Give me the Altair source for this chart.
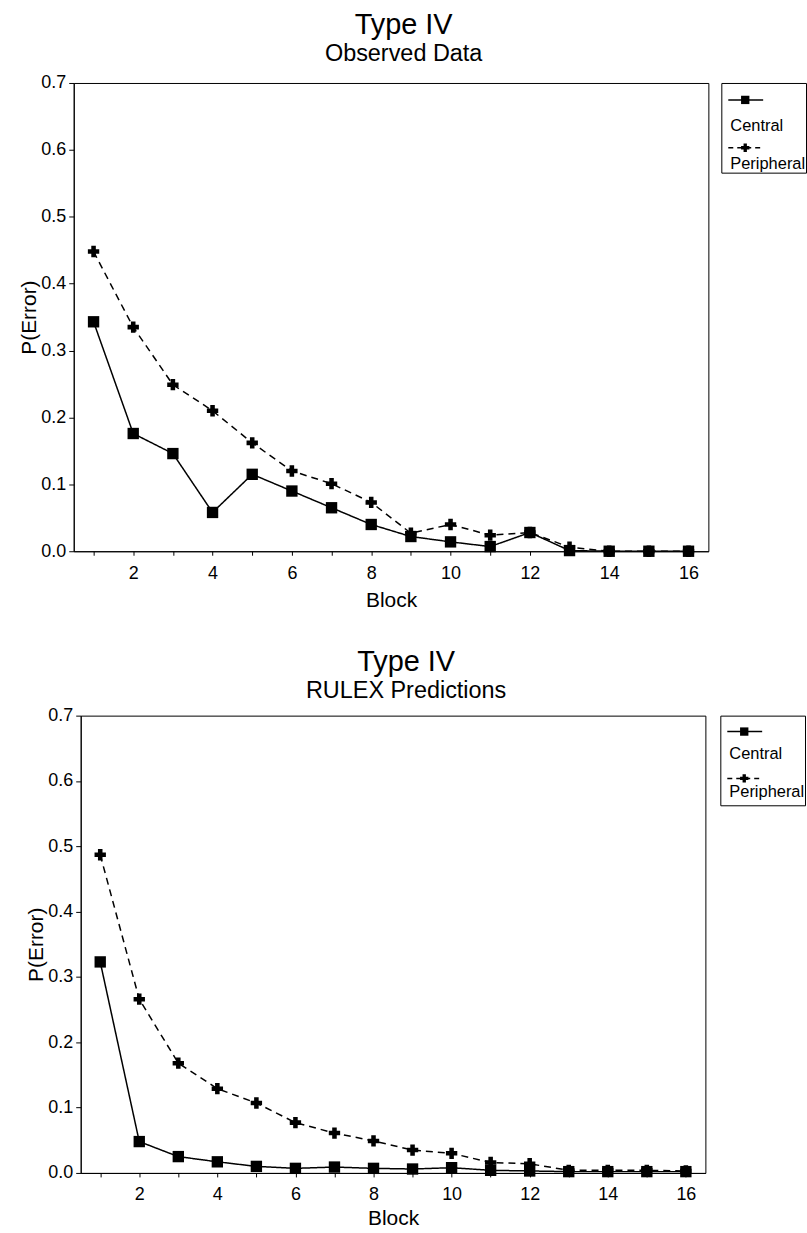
import altair as alt
import pandas as pd

FONT = "Liberation Sans"

blocks = list(range(1, 17))
series_names = ["Central", "Peripheral"]

obs_central = [0.343, 0.176, 0.146, 0.058, 0.115, 0.090, 0.065, 0.040,
               0.022, 0.014, 0.007, 0.028, 0.001, 0.0, 0.0, 0.0]
obs_peripheral = [0.448, 0.335, 0.249, 0.210, 0.162, 0.120, 0.101, 0.073,
                  0.027, 0.040, 0.024, 0.028, 0.006, 0.0, 0.0, 0.0]

rulex_central = [0.323, 0.048, 0.025, 0.017, 0.010, 0.007, 0.009, 0.007,
                 0.006, 0.008, 0.004, 0.003, 0.002, 0.002, 0.002, 0.002]
rulex_peripheral = [0.487, 0.266, 0.168, 0.129, 0.107, 0.077, 0.061, 0.049,
                    0.035, 0.030, 0.016, 0.014, 0.004, 0.004, 0.004, 0.003]

y_ticks = [0.0, 0.1, 0.2, 0.3, 0.4, 0.5, 0.6, 0.7]


def long_df(central, peripheral):
    rows = []
    for b, v in zip(blocks, central):
        rows.append({"block": b, "perr": v, "series": "Central"})
    for b, v in zip(blocks, peripheral):
        rows.append({"block": b, "perr": v, "series": "Peripheral"})
    return pd.DataFrame(rows)


dash_scale = alt.Scale(domain=series_names, range=[[1, 0], [7, 5]])
shape_scale = alt.Scale(domain=series_names, range=["square", "cross"])


def panel(df, w, h, title_pad, x_title_pad):
    x = alt.X("block:Q", title="Block",
              scale=alt.Scale(domain=[0.5, 16.5], nice=False, zero=False),
              axis=alt.Axis(values=blocks, labelExpr="datum.value % 2 == 0 ? datum.label : ''",
                            tickSize=4, labelPadding=9, titlePadding=x_title_pad, grid=False))
    y = alt.Y("perr:Q", title="P(Error)",
              scale=alt.Scale(domain=[0, 0.7], nice=False),
              axis=alt.Axis(values=y_ticks, format=".1f", tickSize=5, labelPadding=3,
                            titlePadding=title_pad, grid=False))
    base = alt.Chart(df)
    line = base.mark_line(color="black", strokeWidth=1.5).encode(
        x=x, y=y,
        strokeDash=alt.StrokeDash("series:N", scale=dash_scale, legend=None),
        detail="series:N",
    )
    pts = base.mark_point(filled=True, color="black", opacity=1, size=130).encode(
        x=x, y=y,
        shape=alt.Shape("series:N", scale=shape_scale, legend=None),
    )
    return alt.layer(line, pts).properties(width=w, height=h)


def legend_panel(sym_range, txt_range):
    ldf = pd.DataFrame({"series": series_names})
    base = alt.Chart(ldf)
    y_sym = alt.Y("series:N", axis=None,
                  scale=alt.Scale(type="point", domain=series_names, range=sym_range, padding=0))
    y_txt = alt.Y("series:N", axis=None,
                  scale=alt.Scale(type="point", domain=series_names, range=txt_range, padding=0))
    rule = base.mark_rule(color="black", strokeWidth=1.5).encode(
        x=alt.value(7), x2=alt.value(42), y=y_sym,
        strokeDash=alt.StrokeDash("series:N", scale=alt.Scale(domain=series_names, range=[[1, 0], [5, 4]]), legend=None),
    )
    sym = base.mark_point(filled=True, color="black", opacity=1, size=70).encode(
        x=alt.value(24), y=y_sym,
        shape=alt.Shape("series:N", scale=shape_scale, legend=None),
    )
    txt = base.mark_text(align="left", baseline="alphabetic", font=FONT, fontSize=16.5,
                         color="black").encode(
        x=alt.value(9), y=y_txt, text="series:N")
    return alt.layer(rule, sym, txt).resolve_scale(y="independent", shape="independent",
                                                    strokeDash="independent").properties(width=85, height=90)


def spacer(w):
    return alt.Chart(pd.DataFrame({"series": series_names})).mark_point(opacity=0).encode(
        x=alt.value(0), y=alt.value(0)
    ).properties(width=w, height=10, view=alt.ViewBackground(stroke="transparent"))


def title(sub, offset, dx):
    return alt.TitleParams("Type IV", subtitle=sub, font=FONT, subtitleFont=FONT,
                           fontSize=29, subtitleFontSize=23.5, fontWeight="normal",
                           color="black", subtitleColor="black", anchor="middle",
                           offset=offset, subtitlePadding=2, dx=dx)


top_inner = alt.hconcat(panel(long_df(obs_central, obs_peripheral), 637, 470, 1, 7),
                        legend_panel([17, 65], [48, 86]), spacing=11)
top = alt.hconcat(spacer(13), top_inner, spacing=0, title=title("Observed Data", 8, 0))

bottom_inner = alt.hconcat(panel(long_df(rulex_central, rulex_peripheral), 627, 459, 1, 4),
                           legend_panel([16, 63], [44, 82]), spacing=13)
bottom = alt.hconcat(spacer(20), bottom_inner, spacing=0, title=title("RULEX Predictions", 4, 3))

chart = alt.vconcat(top, bottom, spacing=37).properties(
    padding={"left": 0, "top": 9, "right": 0, "bottom": 0},
    background="white",
).configure_view(
    stroke="black", strokeWidth=1
).configure_axis(
    labelFont=FONT, titleFont=FONT, labelFontSize=18, titleFontSize=21,
    labelColor="black", titleColor="black", domainColor="black", tickColor="black",
    titleFontWeight="normal", domainWidth=1, tickWidth=1,
)

chart.save("out.html", embed_options={"renderer": "svg", "actions": False})
